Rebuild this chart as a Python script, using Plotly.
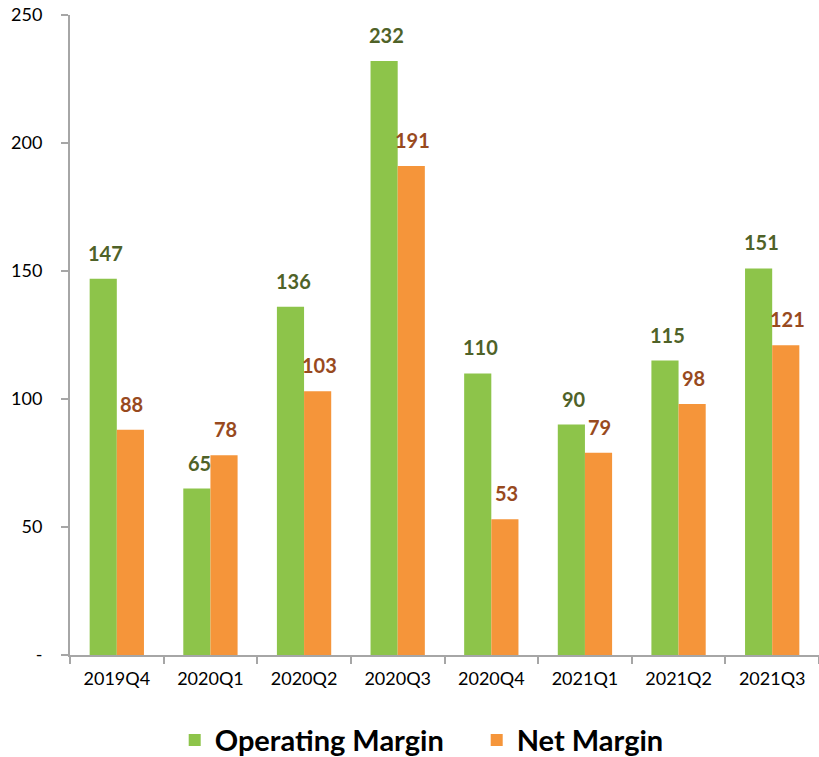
import plotly.graph_objects as go

categories = ["2019Q4", "2020Q1", "2020Q2", "2020Q3", "2020Q4", "2021Q1", "2021Q2", "2021Q3"]
operating_margin = [147, 65, 136, 232, 110, 90, 115, 151]
net_margin = [88, 78, 103, 191, 53, 79, 98, 121]
y_tick_vals = [0, 50, 100, 150, 200, 250]
y_tick_text = ["-", "50", "100", "150", "200", "250"]

GREEN = "#8DC44A"
ORANGE = "#F5953A"
GREEN_TXT = "#4F6228"
ORANGE_TXT = "#984A1E"
FONT = "Lato, 'Open Sans', sans-serif"

fig = go.Figure()
fig.add_trace(go.Bar(x=categories, y=operating_margin, name="Operating Margin",
                     marker=dict(color=GREEN, line=dict(width=0))))
fig.add_trace(go.Bar(x=categories, y=net_margin, name="Net Margin",
                     marker=dict(color=ORANGE, line=dict(width=0))))

annotations = []
for i, c in enumerate(categories):
    annotations.append(dict(x=c, y=operating_margin[i], text=f"<b>{operating_margin[i]}</b>",
                            showarrow=False, xshift=-11, yshift=26,
                            font=dict(family=FONT, size=20, color=GREEN_TXT)))
    annotations.append(dict(x=c, y=net_margin[i], text=f"<b>{net_margin[i]}</b>",
                            showarrow=False, xshift=15, yshift=26,
                            font=dict(family=FONT, size=20, color=ORANGE_TXT)))

fig.update_layout(
    width=819, height=757,
    margin=dict(l=70, r=0, t=15, b=102, autoexpand=False),
    plot_bgcolor="white", paper_bgcolor="white",
    barmode="group", bargap=0.42, bargroupgap=0,
    font=dict(family=FONT, color="black"),
    annotations=annotations,
    showlegend=True,
    legend=dict(orientation="h", x=0.543, xanchor="center", y=-0.133, yanchor="middle",
                font=dict(family=FONT, size=29, color="black", weight="bold"),
                itemsizing="constant", traceorder="normal",
                itemwidth=30, entrywidth=257),
)
fig.update_yaxes(range=[0, 250], tickvals=y_tick_vals, ticktext=y_tick_text, automargin=False,
                 showgrid=False, zeroline=False, showline=True, linecolor="#A6A6A6", linewidth=2,
                 ticks="outside", ticklen=7, tickcolor="#A6A6A6", tickwidth=2,
                 ticklabeloverflow="allow",
                 tickfont=dict(family=FONT, size=18, color="black"), ticklabelstandoff=15)
fig.update_xaxes(showgrid=False, showline=True, linecolor="#A6A6A6", linewidth=2, automargin=False,
                 ticks="outside", tickson="boundaries", ticklen=7, tickcolor="#A6A6A6", tickwidth=2,
                 ticklabeloverflow="allow",
                 tickfont=dict(family=FONT, size=18, color="black"), ticklabelstandoff=6)

fig.write_html("out.html", config={"displayModeBar": False},
               post_script="document.body.style.margin='0';")
